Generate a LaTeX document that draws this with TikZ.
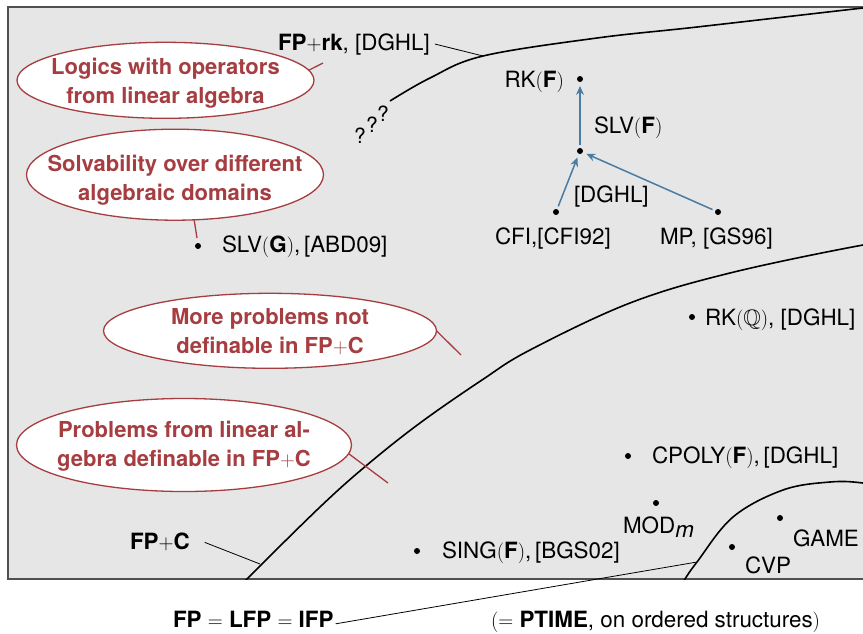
\documentclass[tikz,border=0pt]{standalone}
\usepackage{fontspec}
\usepackage{amssymb}
\setmainfont{TeX Gyre Heros}
\usetikzlibrary{shapes.geometric,arrows.meta}
\definecolor{panel}{HTML}{E6E6E6}
\definecolor{frame}{HTML}{505050}
\definecolor{calred}{HTML}{A63D41}
\definecolor{redblue}{HTML}{4A7CA3}
\begin{document}
\begin{tikzpicture}[x=1pt,y=-1pt,
  every node/.style={font=\fontsize{22.4}{26}\selectfont, inner sep=0pt, outer sep=0pt},
  lbl/.style={anchor=base west},
  lblr/.style={anchor=base east},
  dotnode/.style={circle, fill=black, minimum size=6pt, inner sep=0pt},
  qmark/.style={anchor=base, font=\fontsize{21}{21}\selectfont},
  bound/.style={line width=1.6pt},
  pointer/.style={line width=0.8pt},
  reduce/.style={draw=redblue, line width=1.5pt,
    -{Stealth[length=9pt,width=8pt,inset=3pt]}, shorten >=4pt, shorten <=3pt},
  callout/.style={ellipse, draw=calred, line width=1.3pt, fill=white, text=calred,
    font=\fontsize{22}{29}\selectfont\bfseries, align=center,
    inner xsep=-40pt, inner ysep=-5pt},
  % last baseline sits #1 below the centre of the ellipse
  lastline/.style={text depth=6pt, text height=6pt+2*#1},
  tail/.style={draw=calred, line width=1.3pt}]

\clip (0,0) rectangle (863,633);
\fill[white] (0,0) rectangle (863,633);
\draw[fill=panel, draw=frame, line width=1.1pt] (8,7) rectangle (900,579);

% class boundaries
\begin{scope}
  \clip (8,7) rectangle (900,579);
  \draw[bound] plot[smooth, tension=0.6] coordinates
    {(390,101) (430,78) (483,56) (597,38) (697,27) (863,8) (920,2)};
  \draw[bound] plot[smooth, tension=0.6] coordinates
    {(238,590) (247,579) (320,507) (367,465) (420,423) (482,380) (530,350)
     (630,303) (730,273) (863,245) (920,238)};
  \draw[bound] plot[smooth, tension=0.6] coordinates
    {(678,592) (685,579) (697,562) (733,517) (783,490) (830,482) (863,483) (900,490)};
\end{scope}

% question marks at the open end of the rank boundary
\node[qmark] (q1) at (360,143) {?};
\node[qmark] (q2) at (372,132) {?};
\node[qmark] (q3) at (383,121) {?};

% problems and their references
\node[dotnode] (rkf) at (580,79) {};
\node[lblr] (rkfl) at (564,87) {RK$($\textbf{F}$)$};
\node[dotnode] (slvf) at (580,151) {};
\node[lbl] (slvfl) at (594,133) {SLV$($\textbf{F}$)$};
\node[dotnode] (cfi) at (556,212) {};
\node[lbl] (cfil) at (495,244) {CFI,[CFI92]};
\node[dotnode] (mp) at (718,212) {};
\node[lbl] (mpl) at (660,244) {MP, [GS96]};
\node[lbl] (dghl) at (574,202) {[DGHL]};

\draw[reduce] (slvf) -- (rkf);
\draw[reduce] (cfi) -- (slvf);
\draw[reduce] (mp) -- (slvf);

\node[dotnode] (slvg) at (198,246) {};
\node[lbl] (slvgl) at (222,252) {SLV$($\textbf{G}$)$,\,[ABD09]};
\node[dotnode] (rkq) at (692,317) {};
\node[lbl] (rkql) at (705,325) {RK$(\mathbb{Q})$, [DGHL]};
\node[dotnode] (cpoly) at (628,456) {};
\node[lbl] (cpolyl) at (652,463) {CPOLY$($\textbf{F}$)$,\,[DGHL]};
\node[dotnode] (mod) at (656,503) {};
\node[lbl] (modl) at (623,533) {MOD$_{\textit{m}}$};
\node[dotnode] (sing) at (417,551) {};
\node[lbl] (singl) at (442,558) {SING$($\textbf{F}$)$,\,[BGS02]};
\node[dotnode] (game) at (780,518) {};
\node[lbl] (gamel) at (793,546) {GAME};
\node[dotnode] (cvp) at (732,547) {};
\node[lbl] (cvpl) at (745,573) {CVP};

% logic names and their pointers
\node[lbl] (fprk) at (278,50) {\textbf{FP}$+$\textbf{rk}, [DGHL]};
\node[lbl] (fpc) at (130,549) {\textbf{FP}$+$\textbf{C}};
\node[lbl] (fp) at (173,627) {\textbf{FP} $=$ \textbf{LFP} $=$ \textbf{IFP}};
\node[lbl] (ptime) at (491,627) {$(=$ \textbf{PTIME}, on ordered structures$)$};

\coordinate (fprkhit) at (483,56);
\coordinate (fpchit) at (260,564);
\coordinate (fphit) at (697,562);
\draw[pointer] ([xshift=5pt]fprk.east) -- (fprkhit);
\draw[pointer] ([xshift=15pt,yshift=-1pt]fpc.east) -- (fpchit);
\draw[pointer] ([xshift=2pt,yshift=-5pt]fp.east) -- (fphit);

% callouts
\node[callout, lastline=22.7pt, minimum width=297pt, minimum height=76pt] (c1) at (165.5,80.3)
  {Logics with operators\\from linear algebra};
\node[callout, lastline=25.3pt, minimum width=297pt, minimum height=91pt] (c2) at (175,174.7)
  {Solvability over different\\algebraic domains};
\node[callout, lastline=22.5pt, minimum width=333pt, minimum height=75pt] (c3) at (270,330.8)
  {More problems not\\definable in FP$+$C};
\node[callout, lastline=21pt, minimum width=335pt, minimum height=93pt] (c4) at (184,445)
  {Problems from linear al-\\gebra definable in FP$+$C};

\coordinate (t1) at (323,63);
\coordinate (t2) at (197,238);
\coordinate (t3) at (461,355);
\coordinate (t4) at (388,483);
\draw[tail] (c1.4) -- (t1);
\draw[tail] (c2.-67) -- (t2);
\draw[tail] (c3.east) -- (t3);
\draw[tail] (c4.-3) -- (t4);
\end{tikzpicture}
\end{document}
